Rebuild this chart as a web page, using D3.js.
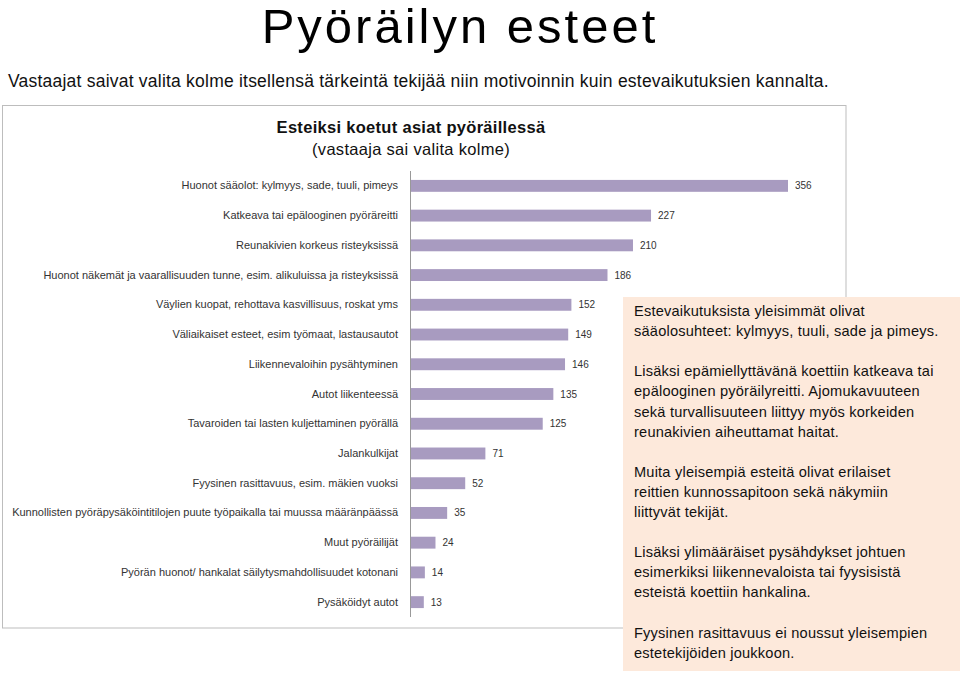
<!DOCTYPE html>
<html><head><meta charset="utf-8">
<script src="https://cdn.jsdelivr.net/npm/d3@7"></script>
<style>
html,body{margin:0;padding:0;background:#fff;}
svg{display:block;font-family:"Liberation Sans",Arial,sans-serif;}
</style></head>
<body><svg id="c" width="960" height="674"></svg>
<script>
const pageTitle = "Pyöräilyn esteet";
const pageSubtitle = "Vastaajat saivat valita kolme itsellensä tärkeintä tekijää niin motivoinnin kuin estevaikutuksien kannalta.";
const chartTitle = "Esteiksi koetut asiat pyöräillessä";
const chartSubtitle = "(vastaaja sai valita kolme)";
const categories = [
  "Huonot sääolot: kylmyys, sade, tuuli, pimeys",
  "Katkeava tai epälooginen pyöräreitti",
  "Reunakivien korkeus risteyksissä",
  "Huonot näkemät ja vaarallisuuden tunne, esim. alikuluissa ja risteyksissä",
  "Väylien kuopat, rehottava kasvillisuus, roskat yms",
  "Väliaikaiset esteet, esim työmaat, lastausautot",
  "Liikennevaloihin pysähtyminen",
  "Autot liikenteessä",
  "Tavaroiden tai lasten kuljettaminen pyörällä",
  "Jalankulkijat",
  "Fyysinen rasittavuus, esim. mäkien vuoksi",
  "Kunnollisten pyöräpysäköintitilojen puute työpaikalla tai muussa määränpäässä",
  "Muut pyöräilijät",
  "Pyörän huonot/ hankalat säilytysmahdollisuudet kotonani",
  "Pysäköidyt autot"
];
const values = [356, 227, 210, 186, 152, 149, 146, 135, 125, 71, 52, 35, 24, 14, 13];
const noteLines = [
  "Estevaikutuksista yleisimmät olivat",
  "sääolosuhteet: kylmyys, tuuli, sade ja pimeys.",
  "",
  "Lisäksi epämiellyttävänä koettiin katkeava tai",
  "epälooginen pyöräilyreitti. Ajomukavuuteen",
  "sekä turvallisuuteen liittyy myös korkeiden",
  "reunakivien aiheuttamat haitat.",
  "",
  "Muita yleisempiä esteitä olivat erilaiset",
  "reittien kunnossapitoon sekä näkymiin",
  "liittyvät tekijät.",
  "",
  "Lisäksi ylimääräiset pysähdykset johtuen",
  "esimerkiksi liikennevaloista tai fyysisistä",
  "esteistä koettiin hankalina.",
  "",
  "Fyysinen rasittavuus ei noussut yleisempien",
  "estetekijöiden joukkoon."
];

const svg = d3.select("#c");

// page title
svg.append("text").attr("x", 460).attr("y", 43).attr("text-anchor", "middle")
  .attr("font-size", 49).attr("letter-spacing", 3).attr("fill", "#000").text(pageTitle);
svg.append("text").attr("x", 8).attr("y", 87)
  .attr("font-size", 17.5).attr("letter-spacing", 0.22).attr("fill", "#111").text(pageSubtitle);

// chart frame
svg.append("rect").attr("x", 2.5).attr("y", 105.5).attr("width", 843.5).attr("height", 522.5)
  .attr("fill", "#fff").attr("stroke", "#bdbdbd").attr("stroke-width", 1);

svg.append("text").attr("x", 411).attr("y", 133).attr("text-anchor", "middle")
  .attr("font-size", 16.5).attr("font-weight", "bold").attr("letter-spacing", 0.3).attr("fill", "#111").text(chartTitle);
svg.append("text").attr("x", 411).attr("y", 155).attr("text-anchor", "middle")
  .attr("font-size", 16.5).attr("letter-spacing", 0.3).attr("fill", "#111").text(chartSubtitle);

const x0 = 410;
const x = d3.scaleLinear().domain([0, 356]).range([x0, 788]);
const y = d3.scaleBand().domain(categories).range([171, 617]).paddingInner(0.6).paddingOuter(0.3);

const g = svg.append("g");
g.selectAll("rect.bar").data(values).join("rect").attr("class", "bar")
  .attr("x", x(0)).attr("y", (d, i) => y(categories[i]))
  .attr("width", d => x(d) - x(0)).attr("height", y.bandwidth())
  .attr("fill", "#a89bc0");

g.selectAll("text.val").data(values).join("text").attr("class", "val")
  .attr("x", d => x(d) + 7).attr("y", (d, i) => y(categories[i]) + y.bandwidth() / 2)
  .attr("dy", "0.35em").attr("font-size", 10).attr("fill", "#333").text(d => d);

const yAxis = d3.axisLeft(y).tickSize(0).tickPadding(12);
const ax = svg.append("g").attr("transform", `translate(${x0},0)`).call(yAxis);
ax.select(".domain").attr("stroke", "#999").attr("d", "M0.5,171V617");
ax.selectAll("text").attr("font-size", 11).attr("fill", "#333")
  .attr("font-family", "'Liberation Sans',Arial,sans-serif");

// note box
svg.append("rect").attr("x", 623).attr("y", 297).attr("width", 337).attr("height", 374)
  .attr("fill", "#fde9db");
const nt = svg.append("text").attr("x", 634).attr("y", 316).attr("font-size", 14.6)
  .attr("letter-spacing", 0.2).attr("fill", "#111");
nt.selectAll("tspan").data(noteLines).join("tspan")
  .attr("x", 634).attr("dy", (d, i) => i === 0 ? 0 : 20.1).text(d => d === "" ? "\u00a0" : d);
</script></body></html>
